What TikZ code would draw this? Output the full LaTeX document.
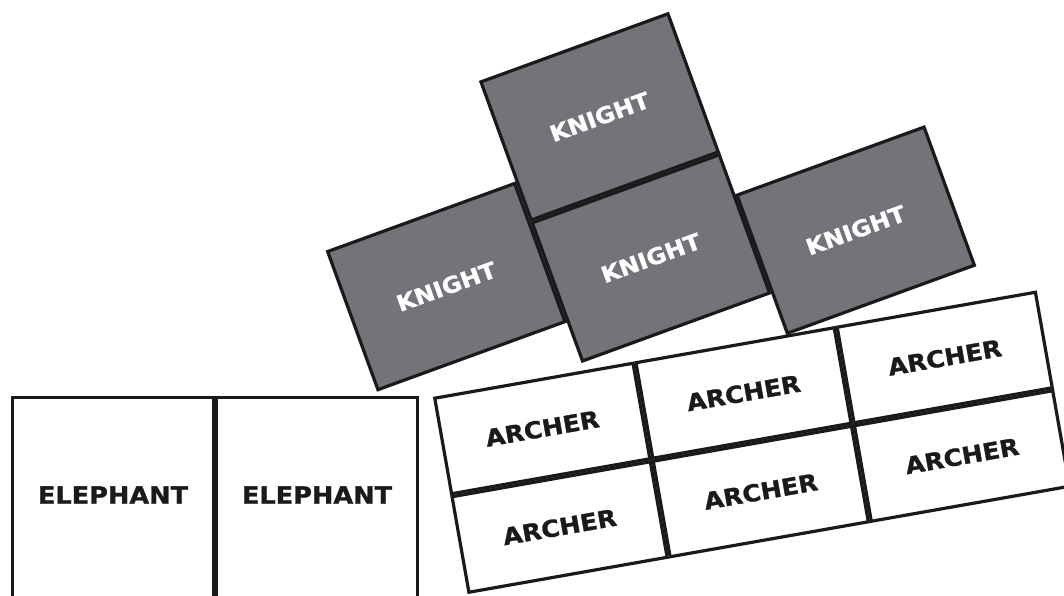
\documentclass[tikz,border=0pt]{standalone}
\usepackage{fontspec}
\newfontfamily\boxfont[FakeStretch=1.08,FakeBold=1.2]{DejaVu Sans Bold}
\definecolor{knightgray}{RGB}{115,116,121}
\definecolor{ink}{RGB}{26,26,26}
\tikzset{
  cell/.style={draw=ink, line width=3.2pt, rectangle, inner sep=0pt, outer sep=0pt},
  knightbox/.style={cell, fill=knightgray, minimum width=199pt, minimum height=147pt, rotate=20,
    text=white, font=\boxfont\fontsize{22.3}{24}\selectfont},
  archerbox/.style={cell, fill=white, minimum width=201.3pt, minimum height=97pt, rotate=10,
    text=ink, font=\boxfont\fontsize{23.3}{25}\selectfont},
  elephantbox/.style={cell, fill=white, minimum width=201pt, minimum height=240pt},
  elephanttext/.style={text=ink, inner sep=0pt, font=\boxfont\fontsize{23.7}{25}\selectfont}
}
\begin{document}
\begin{tikzpicture}[x=1pt,y=1pt]
\useasboundingbox (0,0) rectangle (1064,-596);
\clip (0,0) rectangle (1064,-596);
% elephants
\node[elephantbox] (e1) at (113,-517.5) {};
\node[elephantbox] (e2) at (317,-517.5) {};
\node[elephanttext] (t1) at (113,-495) {ELEPHANT};
\node[elephanttext] (t2) at (317,-495) {ELEPHANT};
% archers
\node[archerbox] (a00) at (542.3,-428.5) {ARCHER};
\node[archerbox] (a10) at (743.5,-393.0) {ARCHER};
\node[archerbox] (a20) at (944.7,-357.5) {ARCHER};
\node[archerbox] (a01) at (559.6,-527.0) {ARCHER};
\node[archerbox] (a11) at (760.8,-491.5) {ARCHER};
\node[archerbox] (a21) at (962.0,-456.0) {ARCHER};
% knights
\node[knightbox] (k2) at (599.6,-116.9) {KNIGHT};
\node[knightbox] (k3) at (650.9,-257.9) {KNIGHT};
\node[knightbox] (k1) at (446.3,-286.6) {KNIGHT};
\node[knightbox] (k4) at (855.7,-230.2) {KNIGHT};
\end{tikzpicture}
\end{document}
